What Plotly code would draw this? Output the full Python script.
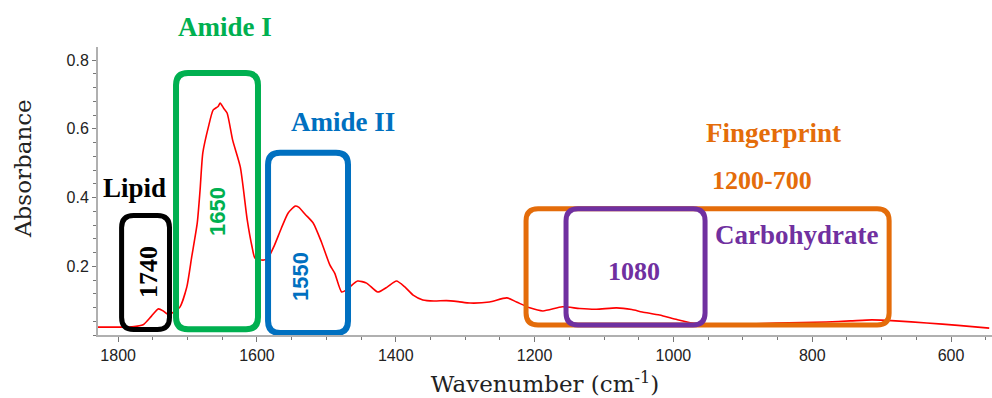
import plotly.graph_objects as go

# ---- data -------------------------------------------------------------
wavenumber = [1829, 1800, 1780, 1764, 1752, 1742, 1735, 1729, 1720, 1711,
              1701, 1694, 1686, 1682, 1678, 1670, 1663, 1656, 1653, 1648,
              1643, 1635, 1624, 1614, 1607, 1603, 1596, 1590, 1584, 1575,
              1565, 1555, 1545, 1540, 1530, 1519, 1507, 1495, 1488, 1478,
              1472, 1466, 1455, 1442, 1426, 1412, 1399, 1387, 1375, 1361,
              1345, 1327, 1310, 1293, 1265, 1240, 1226, 1207, 1188, 1160,
              1135, 1111, 1082, 1060, 1045, 1020, 995, 973, 950, 924,
              890, 852, 815, 780, 745, 714, 680, 635, 590, 545]
absorbance = [0.023, 0.023, 0.024, 0.030, 0.055, 0.076, 0.070, 0.061, 0.066, 0.081,
              0.140, 0.227, 0.326, 0.420, 0.530, 0.605, 0.655, 0.665, 0.675, 0.660,
              0.646, 0.567, 0.489, 0.335, 0.256, 0.224, 0.219, 0.218, 0.224, 0.260,
              0.310, 0.355, 0.375, 0.372, 0.350, 0.326, 0.270, 0.204, 0.180, 0.125,
              0.130, 0.140, 0.157, 0.151, 0.125, 0.140, 0.157, 0.140, 0.116, 0.102,
              0.099, 0.100, 0.097, 0.093, 0.096, 0.108, 0.096, 0.079, 0.070, 0.082,
              0.077, 0.075, 0.079, 0.074, 0.067, 0.058, 0.045, 0.035, 0.031, 0.030,
              0.032, 0.035, 0.036, 0.038, 0.041, 0.044, 0.041, 0.035, 0.028, 0.020]

# band boxes: (wn high, wn low, abs low, abs high)
box_names = ["Lipid", "Amide I", "Amide II", "Fingerprint", "Carbohydrate"]
box_x_hi = [1795, 1716.6, 1584, 1212.3, 1154.7]
box_x_lo = [1726, 1598.5, 1468.8, 689.2, 954.4]
box_y_lo = [0.016, 0.017, 0.006, 0.029, 0.029]
box_y_hi = [0.348, 0.762, 0.530, 0.367, 0.367]
box_colors = ["#000000", "#00B050", "#0070C0", "#E46C0A", "#7030A0"]
box_widths = [5, 6, 6, 5, 5]

x_ticks = [1800, 1600, 1400, 1200, 1000, 800, 600]
y_ticks = [0.2, 0.4, 0.6, 0.8]

# ---- layout constants ---------------------------------------------------
W, H = 992, 398
ML, MR, MT, MB = 98, 0, 47, 63
x_range = [1829, 541]
y_range = [0, 0.838]
px_per_x = (W - ML - MR) / abs(x_range[0] - x_range[1])
px_per_y = (H - MT - MB) / (y_range[1] - y_range[0])


def rrect(xa, xb, ya, yb, rpx=12):
    xa, xb = min(xa, xb), max(xa, xb)
    ya, yb = min(ya, yb), max(ya, yb)
    rx, ry = rpx / px_per_x, rpx / px_per_y
    return (f"M {xa+rx},{ya} L {xb-rx},{ya} Q {xb},{ya} {xb},{ya+ry} "
            f"L {xb},{yb-ry} Q {xb},{yb} {xb-rx},{yb} L {xa+rx},{yb} "
            f"Q {xa},{yb} {xa},{yb-ry} L {xa},{ya+ry} Q {xa},{ya} {xa+rx},{ya} Z")


def to_paper_y(v):
    return (v - y_range[0]) / (y_range[1] - y_range[0])


fig = go.Figure()
fig.add_trace(go.Scatter(x=wavenumber, y=absorbance, mode="lines",
                         line=dict(color="#FF0000", width=1.6, shape="spline", smoothing=0.6),
                         showlegend=False, hoverinfo="x+y"))

shapes = []
for i in range(len(box_names)):
    shapes.append(dict(type="path", xref="x", yref="y",
                       path=rrect(box_x_hi[i], box_x_lo[i], box_y_lo[i], box_y_hi[i]),
                       line=dict(color=box_colors[i], width=box_widths[i]),
                       fillcolor="rgba(0,0,0,0)", layer="above"))

SERIF_B = "Liberation Serif"
SANS = "Liberation Sans"
labels = [
    # text, x, y, color, font, size, angle
    ("<b>Amide I</b>", 1646, 0.896, "#00B050", SERIF_B, 27, 0),
    ("<b>Amide II</b>", 1476, 0.620, "#0070C0", SERIF_B, 27, 0),
    ("<b>Lipid</b>", 1777, 0.428, "#000000", SERIF_B, 27, 0),
    ("<b>Fingerprint</b>", 856, 0.588, "#E46C0A", SERIF_B, 27, 0),
    ("<b>1200-700</b>", 872, 0.451, "#E46C0A", SERIF_B, 26, 0),
    ("<b>Carbohydrate</b>", 822, 0.290, "#7030A0", SERIF_B, 27, 0),
    ("<b>1740</b>", 1757, 0.183, "#000000", SERIF_B, 26, -90),
    ("<b>1650</b>", 1656, 0.358, "#00B050", SANS, 22, -90),
    ("<b>1550</b>", 1536.5, 0.169, "#0070C0", SANS, 22, -90),
    ("<b>1080</b>", 1056.7, 0.186, "#7030A0", SERIF_B, 26, 0),
]
annotations = []
for t, x, y, c, f, s, a in labels:
    annotations.append(dict(text=t, x=x, y=to_paper_y(y), xref="x", yref="paper",
                            showarrow=False,
                            font=dict(family=f, size=s, color=c), textangle=a,
                            xanchor="center", yanchor="middle"))

# y-axis title placed as annotation (it sits above the plot centre in the reference)
annotations.append(dict(text="Absorbance", x=(23 - ML) / (W - ML - MR),
                        y=(H - MB - 169) / (H - MT - MB), xref="paper", yref="paper",
                        showarrow=False, textangle=-90, xanchor="center", yanchor="middle",
                        font=dict(family="DejaVu Serif", size=23, color="#222")))

fig.update_layout(
    width=W, height=H,
    margin=dict(l=ML, r=MR, t=MT, b=MB),
    paper_bgcolor="white", plot_bgcolor="white",
    shapes=shapes, annotations=annotations,
    xaxis=dict(range=x_range, tickvals=x_ticks, showgrid=False, zeroline=False,
               showline=True, linecolor="#b0b0b0", linewidth=2,
               ticks="outside", ticklen=5, tickcolor="#777", tickwidth=1,
               minor=dict(tickmode="linear", tick0=0, dtick=50, ticks="outside",
                          ticklen=3, tickcolor="#777"),
               tickfont=dict(family="Liberation Sans", size=16, color="#222"),
               title=dict(text="Wavenumber (cm<sup>-1</sup>)", standoff=13,
                          font=dict(family="DejaVu Serif", size=23, color="#222"))),
    yaxis=dict(range=y_range, tickvals=y_ticks, showgrid=False, zeroline=False,
               showline=True, linecolor="#b0b0b0", linewidth=2,
               ticks="outside", ticklen=4, tickcolor="#777", tickwidth=1,
               minor=dict(tickmode="linear", tick0=0, dtick=0.04, ticks="outside",
                          ticklen=3, tickcolor="#777"),
               tickfont=dict(family="Liberation Sans", size=16, color="#222")),
)

fig.write_html("out.html")
